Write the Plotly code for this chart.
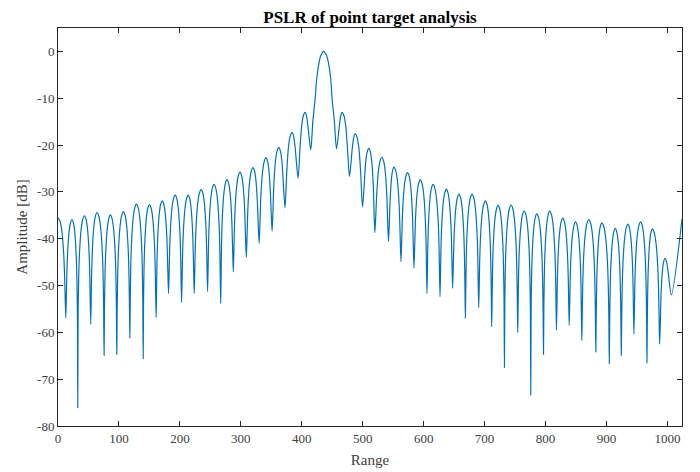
import plotly.graph_objects as go

# ---- data ----
# nulls between lobes (Range, dB)
null_x = [12.8, 32.4, 53.7, 75.6, 96.5, 117.9, 139.8, 161.0, 181.4, 202.8,
          223.5, 245.5, 267.0, 287.7, 309.0, 330.0, 351.3, 372.6, 394.0, 414.8,
          457.0, 478.3, 499.7, 520.0, 542.4, 562.8, 584.1, 605.5, 626.9, 647.6,
          668.5, 690.4, 711.7, 732.6, 754.4, 775.8, 796.7, 818.0, 838.9, 859.6,
          882.6, 904.7, 924.4, 945.1, 966.5, 987.3, 1006.6]
null_db = [-56.9, -76.1, -58.3, -64.9, -64.7, -61.2, -65.6, -56.8, -51.7, -53.6,
           -51.7, -51.3, -53.8, -47.1, -44.0, -41.0, -38.4, -33.4, -27.1, -21.0,
           -20.8, -26.7, -33.2, -38.7, -40.6, -44.9, -46.3, -51.7, -52.4, -50.6,
           -57.0, -54.7, -58.8, -67.5, -60.0, -73.4, -64.7, -59.5, -58.5, -61.7,
           -64.2, -66.7, -64.9, -60.4, -66.5, -62.5, -52.0]

# lobe peaks (between consecutive nulls)
peak_x = [23.0, 43.4, 64.0, 86.0, 107.4, 128.8, 150.0, 171.0, 192.3, 213.7,
          235.0, 256.0, 277.3, 298.7, 320.0, 341.4, 362.3, 384.0, 405.5, 436.0,
          466.3, 487.7, 510.0, 531.5, 551.3, 573.6, 594.5, 615.4, 637.3, 658.0,
          679.5, 701.4, 722.2, 743.6, 765.0, 785.7, 807.0, 828.4, 849.3, 871.1,
          892.5, 914.5, 935.3, 956.1, 975.3, 996.0]
peak_db = [-35.9, -35.1, -34.4, -34.9, -34.2, -32.6, -32.7, -31.9, -30.7, -30.7,
           -29.5, -28.4, -27.4, -25.8, -24.8, -22.7, -20.5, -17.3, -13.0, 0.0,
           -13.0, -17.6, -20.7, -22.6, -24.7, -25.9, -27.4, -28.4, -29.4, -30.5,
           -30.5, -31.9, -32.9, -32.8, -34.1, -34.7, -34.1, -35.6, -36.4, -35.9,
           -36.6, -37.8, -36.9, -36.4, -37.9, -44.2]

# curve ends at the axis edges
start_x, start_db = 0.0, -35.5
end_x, end_db = 1024.0, -35.8

# main lobe flanks
main_x = [418.2, 422.0, 424.5, 427.6, 431.0, 441.0, 444.6, 447.6, 449.7, 453.6]
main_db = [-15.0, -10.0, -6.0, -3.0, -1.0, -1.0, -3.0, -6.0, -10.0, -15.0]

# side-lobe flank shape:
# fraction of the null-to-null width away from the null, level below lobe peak (dB)
flank_frac = [0.03, 0.07, 0.13, 0.25, 0.37]
flank_drop = [-20.5, -13.3, -8.0, -3.0, -0.8]

# y tick labels as printed (plain hyphen)
ytick_vals = [-80, -70, -60, -50, -40, -30, -20, -10, 0]
ytick_text = ["-80", "-70", "-60", "-50", "-40", "-30", "-20", "-10", "0"]
xtick_vals = [0, 100, 200, 300, 400, 500, 600, 700, 800, 900, 1000]

# ---- assemble the traced curve ----
pts = [(start_x, start_db)]


def flank(xn, yn, xp, yp):
    out = []
    for f, d in zip(flank_frac, flank_drop):
        v = yp + d
        pos = xn + 2 * f * (xp - xn)
        if v > yn + 4 and abs(pos - xn) < abs(xp - xn):
            out.append((pos, v))
    return out


pts.extend(flank(null_x[0], null_db[0], start_x, start_db))
for i, (xp, yp) in enumerate(zip(peak_x, peak_db)):
    xl, yl = null_x[i], null_db[i]
    xr, yr = null_x[i + 1], null_db[i + 1]
    pts.append((xl, yl))
    if yp == 0.0:
        pts.extend(zip(main_x, main_db))
        pts.append((xp, yp))
        continue
    pts.extend(flank(xl, yl, xp, yp))
    pts.append((xp, yp))
    pts.extend(flank(xr, yr, xp, yp))
pts.append((null_x[-1], null_db[-1]))
pts.append((end_x, end_db))
pts.sort(key=lambda p: p[0])

xs = [p[0] for p in pts]
ys = [p[1] for p in pts]

serif = "Liberation Serif, Times New Roman, serif"
axcol = "#262626"
labcol = "#404040"

fig = go.Figure()
fig.add_trace(go.Scatter(
    x=xs, y=ys, mode="lines",
    line=dict(color="#0072BD", width=1.2, shape="spline", smoothing=0.8),
    showlegend=False, hoverinfo="skip"))

fig.update_layout(
    width=700, height=472,
    margin=dict(l=58, r=18, t=28, b=46),
    paper_bgcolor="white", plot_bgcolor="white",
    title=dict(text="<b>PSLR of point target analysis</b>",
               font=dict(family=serif, size=17, color="#000000"),
               x=(58 + 682) / 2 / 700, xanchor="center",
               y=1 - 17.5 / 472, yanchor="middle", yref="container"),
    font=dict(family=serif, color=axcol),
)
fig.update_xaxes(
    range=[0, 1024], tickvals=xtick_vals, automargin=False,
    ticks="inside", ticklen=5, tickcolor=axcol, tickwidth=1,
    showline=True, linecolor=axcol, linewidth=1, mirror="ticks",
    showgrid=False, zeroline=False,
    tickfont=dict(family=serif, size=13, color=labcol),
    title=dict(text="Range", font=dict(family=serif, size=15, color=labcol), standoff=9),
)
fig.update_yaxes(
    range=[-80, 5], tickvals=ytick_vals, ticktext=ytick_text, automargin=False,
    ticks="inside", ticklen=5, tickcolor=axcol, tickwidth=1,
    showline=True, linecolor=axcol, linewidth=1, mirror="ticks",
    showgrid=False, zeroline=False,
    tickfont=dict(family=serif, size=13, color=labcol),
    title=dict(text="Amplitude [dB]", font=dict(family=serif, size=15, color=labcol), standoff=5),
)

fig.write_html("out.html")
